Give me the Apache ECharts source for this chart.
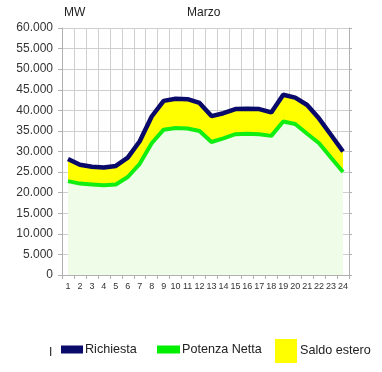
<!DOCTYPE html>
<html><head><meta charset="utf-8">
<script src="https://cdn.jsdelivr.net/npm/echarts@6/dist/echarts.min.js"></script>
<style>html,body{margin:0;padding:0;background:#fff}#c{width:382px;height:372px}</style>
</head><body><div id="c"></div>
<script>
var hours = ['1','2','3','4','5','6','7','8','9','10','11','12','13','14','15','16','17','18','19','20','21','22','23','24'];
var richiesta = [28200,26800,26300,26100,26500,28500,32500,38500,42300,42800,42700,41800,38600,39300,40300,40400,40300,39500,43800,43100,41300,38000,34000,30000];
var potenzaNetta = [22800,22200,22000,21800,22000,23800,27000,32000,35300,35700,35600,35000,32300,33200,34200,34300,34200,33800,37300,36700,34300,32000,28500,25000];
var saldoEstero = richiesta.map(function(v,i){return v - potenzaNetta[i];});
var yTicks = {min:0, max:60000, interval:5000};

var font = 'Liberation Sans, Arial, sans-serif';
function fmt(v){return String(v).replace(/\B(?=(\d{3})+(?!\d))/g,'.');}
var chart = echarts.init(document.getElementById('c'), null, {renderer:'canvas'});
chart.setOption({
  animation:false,
  textStyle:{fontFamily:font},
  graphic:[
    {type:'text', left:64, top:7, style:{text:'MW', fontSize:12, fill:'#222', fontFamily:font}},
    {type:'text', left:187, top:7, style:{text:'Marzo', fontSize:12, fill:'#222', fontFamily:font}},
    {type:'text', left:49, top:347, style:{text:'I', fontSize:12, fill:'#222', fontFamily:font}}
  ],
  legend:[
    {data:['Richiesta'], left:61, top:343, padding:0, icon:'rect', itemWidth:22, itemHeight:8, textStyle:{fontSize:12.6, color:'#222', fontFamily:font, padding:[0,0,0,-3]}},
    {data:['Potenza Netta'], left:157, top:343, padding:0, icon:'rect', itemWidth:23, itemHeight:8, textStyle:{fontSize:12.6, color:'#222', fontFamily:font, padding:[0,0,0,-3]}},
    {data:['Saldo estero'], left:275, top:339, padding:0, icon:'rect', itemWidth:22, itemHeight:24, textStyle:{fontSize:12.6, color:'#222', fontFamily:font, padding:[2,0,0,-2]}}
  ],
  grid:{left:62, right:33, top:28, bottom:97},
  xAxis:{
    type:'category', data:hours, boundaryGap:true,
    axisLine:{lineStyle:{color:'#b0b0b0', width:1}},
    axisTick:{show:true, interval:0, length:4, lineStyle:{color:'#b0b0b0'}},
    axisLabel:{interval:0, fontSize:9, color:'#333', margin:7, fontFamily:font},
    splitLine:{show:true, interval:0, lineStyle:{color:'#cfcfcf', width:1}}
  },
  yAxis:[{
    type:'value', min:yTicks.min, max:yTicks.max, interval:yTicks.interval,
    axisLine:{show:true, lineStyle:{color:'#b0b0b0'}},
    axisTick:{show:true, length:4, lineStyle:{color:'#b0b0b0'}},
    axisLabel:{formatter:fmt, fontSize:12, color:'#333', margin:9, fontFamily:font},
    splitLine:{show:true, lineStyle:{color:'#cfcfcf', width:1}}
  },{
    type:'value', position:'right', min:yTicks.min, max:yTicks.max, interval:yTicks.interval,
    axisLine:{show:true, lineStyle:{color:'#b0b0b0'}},
    axisTick:{show:true, length:3, lineStyle:{color:'#b0b0b0'}},
    axisLabel:{show:false}, splitLine:{show:false}
  }],
  series:[
    {name:'Potenza Netta', type:'line', stack:'tot', data:potenzaNetta, symbol:'none', z:3,
     itemStyle:{color:'#00ee00'},
     lineStyle:{color:'#11ee11', width:4},
     areaStyle:{color:'#eefce8', opacity:1}},
    {name:'Saldo estero', type:'line', stack:'tot', data:saldoEstero, symbol:'none', z:2,
     itemStyle:{color:'#ffff00'},
     lineStyle:{width:0, opacity:0},
     areaStyle:{color:'#ffff00', opacity:1}},
    {name:'Richiesta', type:'line', data:richiesta, symbol:'none', z:4,
     itemStyle:{color:'#0a0a6a'},
     lineStyle:{color:'#0a0a6a', width:4.5}}
  ]
});
</script></body></html>
